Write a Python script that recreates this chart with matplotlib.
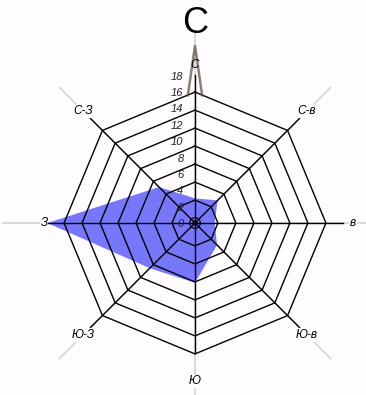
import numpy as np
import matplotlib.pyplot as plt

# wind rose data (clockwise from north)
directions = ['С', 'С-в', 'в', 'Ю-в', 'Ю', 'Ю-З', 'З', 'С-З']
angles_deg = [90, 45, 0, -45, -90, -135, 180, 135]
values = [3.0, 3.9, 2.4, 3.8, 7.3, 7.8, 18.0, 6.2]
tick_values = [0, 2, 4, 6, 8, 10, 12, 14, 16, 18]
# thin needle on north
needle_r = [15.6, 21.6, 15.6]
needle_ang = [93.2, 90.0, 86.8]

PX = 8.2                      # pixels per unit
cx, cy = 195, 395 - 223       # centre in pixels
ring_r = [0.6 + k * 2.195 for k in range(1, 8)]
axis_len = [18, 18, 18, 18, 15.9, 18, 18, 18]

plt.rcParams['font.family'] = ['Liberation Sans', 'DejaVu Sans']

fig = plt.figure(figsize=(3.66, 3.95), dpi=100)
fig.patch.set_facecolor('#fefcfe')
ax = fig.add_axes([0, 0, 1, 1])
ax.set_xlim(-cx / PX, (366 - cx) / PX)
ax.set_ylim(-cy / PX, (395 - cy) / PX)
ax.set_aspect('equal')
ax.axis('off')

th = np.radians(angles_deg)

def xy(r, a):
    return np.array(r) * np.cos(a), np.array(r) * np.sin(a)

# light grey long axes
for a in th:
    x, y = xy([0, 23.5], a)
    ax.plot(x, y, color='#dadada', lw=1.4, zorder=1, solid_capstyle='butt')

# filled area
px, py = xy(values, th)
ax.fill(px, py, color='#7777fb', lw=0, zorder=2)

# octagon rings
for r in ring_r:
    x, y = xy([r] * 9, np.append(th, th[0]))
    ax.plot(x, y, color='black', lw=1.0, zorder=3)
t = np.linspace(0, 2 * np.pi, 100)
for r in [0.65, 0.25]:
    ax.plot(r * np.cos(t), r * np.sin(t), color='black', lw=0.8, zorder=3)

# black axes
for a, L in zip(th, axis_len):
    x, y = xy([0, L], a)
    ax.plot(x, y, color='black', lw=1.0, zorder=3)

# needle
nx, ny = xy(needle_r, np.radians(needle_ang))
ax.plot(nx, ny, color='#5c4a38', lw=1.8, alpha=0.7, zorder=4)

# direction labels
for lab, a in zip(directions, th):
    r = 18.4 if lab == 'З' else 19.3
    x, y = xy(r, a)
    box = None if a == th[0] else dict(facecolor='#fefcfe', edgecolor='none', pad=0.5)
    ax.text(x, y, lab, fontsize=8.5, style='italic', ha='center', va='center', zorder=5,
            bbox=box)

# radial tick labels
for v in tick_values:
    ax.text(-1.4, v - 0.15, str(v), fontsize=8, style='italic', ha='right', va='center',
            color='#222222', zorder=5)

ax.text(0, 24.3, 'С', fontsize=26, ha='center', va='center')

fig.savefig('out.png', dpi=100, facecolor=fig.get_facecolor())
